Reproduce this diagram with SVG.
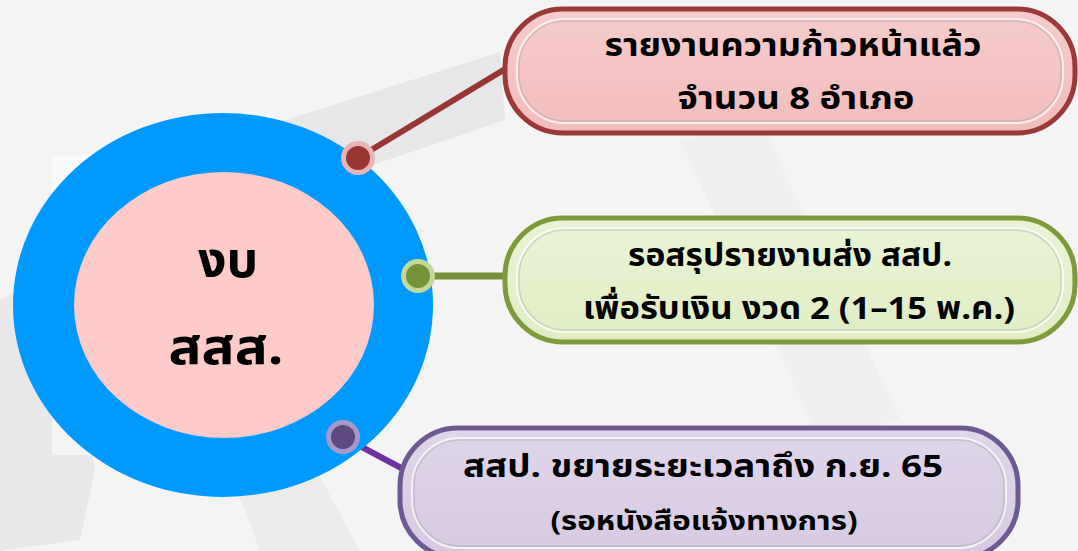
<svg xmlns="http://www.w3.org/2000/svg" width="1078" height="551" viewBox="0 0 1078 551">
<style>
.t{font-family:"Noto Sans Thai","Noto Sans","DejaVu Sans",sans-serif;font-weight:bold;fill:#000;text-anchor:middle}
.box{stroke-width:5}
.hl{fill:none;stroke:#ffffff;stroke-opacity:0.7;stroke-width:2}
.hl2{fill:none;stroke:#9a9a9a;stroke-opacity:0.35;stroke-width:1.5}
</style>
<defs>
<linearGradient id="gr" x1="0" y1="0" x2="0" y2="1"><stop offset="0" stop-color="#f7cccc"/><stop offset="1" stop-color="#f2bcbc"/></linearGradient>
<linearGradient id="gg" x1="0" y1="0" x2="0" y2="1"><stop offset="0" stop-color="#e9f4d6"/><stop offset="1" stop-color="#dfedc4"/></linearGradient>
<linearGradient id="gp" x1="0" y1="0" x2="0" y2="1"><stop offset="0" stop-color="#e0d6ea"/><stop offset="1" stop-color="#d6cae2"/></linearGradient>
</defs>
<rect width="1078" height="551" fill="#f4f4f5"/>
<g id="background" fill="#e3e3e6">
<polygon points="270,125 500,52 505,120 300,190" opacity="0.8"/>
<polygon points="0,300 60,270 95,470 80,540 0,551" opacity="0.7"/>
<polygon points="680,140 760,120 900,420 820,440" opacity="0.3"/>
<polygon points="230,470 300,440 360,551 260,551" opacity="0.5"/>
<rect x="52" y="155" width="60" height="300" fill="#ffffff" opacity="0.5"/>
</g>
<g id="connectors">
<line x1="358" y1="158" x2="510" y2="66" stroke="#983634" stroke-width="6"/>
<line x1="418" y1="276" x2="510" y2="276" stroke="#77923a" stroke-width="7"/>
<line x1="343" y1="437" x2="405" y2="470" stroke="#7030a0" stroke-width="6"/>
</g>
<g id="center">
<ellipse cx="223" cy="305" rx="210" ry="192" fill="#0099ff"/>
<ellipse cx="224" cy="305" rx="150" ry="133" fill="#fecbca"/>
<text class="t" x="228" y="277" font-size="50">งบ</text>
<text class="t" x="226" y="364" font-size="50" textLength="115" lengthAdjust="spacingAndGlyphs">สสส.</text>
</g>
<g id="dots">
<circle cx="358" cy="158" r="17" fill="#e8b4b4"/><circle cx="358" cy="158" r="12" fill="#983634"/>
<circle cx="418" cy="276" r="17" fill="#c3d99a"/><circle cx="418" cy="276" r="12" fill="#77923a"/>
<circle cx="343" cy="437" r="17" fill="#a898c8"/><circle cx="343" cy="437" r="12" fill="#5e4a7e"/>
</g>
<g id="box-red">
<rect class="box" x="505" y="9" width="570" height="124" rx="58" fill="url(#gr)" stroke="#9a3a38"/>
<rect class="hl" x="517" y="19" width="546" height="104" rx="48"/>
<rect class="hl2" x="519" y="21" width="542" height="100" rx="46"/>
<text class="t" x="793" y="56" font-size="31" textLength="377" lengthAdjust="spacingAndGlyphs">รายงานความก้าวหน้าแล้ว</text>
<text class="t" x="796" y="109" font-size="31" textLength="237" lengthAdjust="spacingAndGlyphs">จำนวน 8 อำเภอ</text>
</g>
<g id="box-green">
<rect class="box" x="505" y="218" width="570" height="124" rx="58" fill="url(#gg)" stroke="#7d9a3c"/>
<rect class="hl" x="517" y="228" width="546" height="104" rx="48"/>
<rect class="hl2" x="519" y="230" width="542" height="100" rx="46"/>
<text class="t" x="790" y="266" font-size="31" textLength="324" lengthAdjust="spacingAndGlyphs">รอสรุปรายงานส่ง สสป.</text>
<text class="t" x="799" y="319" font-size="31" textLength="432" lengthAdjust="spacingAndGlyphs">เพื่อรับเงิน งวด 2 (1–15 พ.ค.)</text>
</g>
<g id="box-purple">
<rect class="box" x="400" y="428" width="618" height="130" rx="58" fill="url(#gp)" stroke="#6e5a93"/>
<rect class="hl" x="412" y="438" width="594" height="110" rx="48"/>
<rect class="hl2" x="414" y="440" width="590" height="106" rx="46"/>
<text class="t" x="703" y="477" font-size="31" textLength="480" lengthAdjust="spacingAndGlyphs">สสป. ขยายระยะเวลาถึง ก.ย. 65</text>
<text class="t" x="704" y="530" font-size="26" textLength="307" lengthAdjust="spacingAndGlyphs">(รอหนังสือแจ้งทางการ)</text>
</g>
</svg>
